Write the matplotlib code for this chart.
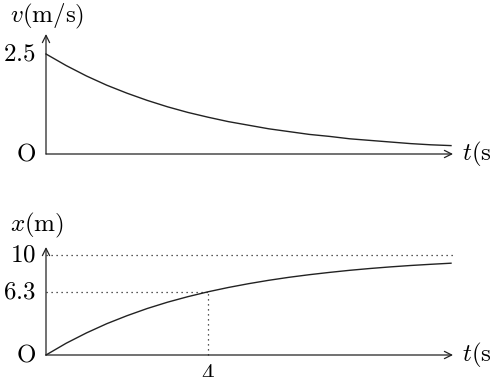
import matplotlib
matplotlib.use("Agg")
import matplotlib.pyplot as plt

plt.rcParams['mathtext.fontset'] = 'cm'
plt.rcParams['font.family'] = 'serif'
plt.rcParams['font.serif'] = ['cmr10', 'DejaVu Serif']

# values
t = [0, 0.5, 1, 1.5, 2, 2.5, 3, 3.5, 4, 4.5, 5, 5.5, 6, 6.5, 7, 7.5, 8, 8.5, 9, 9.5, 10]
v = [2.5, 2.21, 1.95, 1.72, 1.52, 1.34, 1.18, 1.04, 0.92, 0.81, 0.72, 0.63, 0.56,
     0.49, 0.44, 0.38, 0.34, 0.30, 0.26, 0.23, 0.21]
x = [0, 1.18, 2.21, 3.13, 3.93, 4.65, 5.28, 5.83, 6.32, 6.75, 7.13, 7.47, 7.77,
     8.03, 8.26, 8.47, 8.65, 8.81, 8.95, 9.07, 9.18]
v_ticks = [2.5]
x_ticks = [10, 6.3]
t_mark = 4
x_at_mark = 6.3
x_limit = 10

W, H = 491, 377
fig = plt.figure(figsize=(W / 100, H / 100), dpi=100)

xlim = (-46 / 40.5, (W - 46) / 40.5)
fs = 18
ink = '#222222'
arrow = dict(arrowstyle='->', lw=0.9, color=ink, mutation_scale=13,
             shrinkA=0, shrinkB=0)
dots = dict(color=ink, lw=0.9, ls=(0, (1, 3)))

# top panel: v(t)
ax1 = fig.add_axes([0, (H - 170) / H, 1, 150 / H])
ax1.set_xlim(*xlim)
ax1.set_ylim((154 - 170) / 40, (154 - 20) / 40)
ax1.axis('off')
ax1.plot(t, v, color=ink, lw=1.0)
ax1.annotate('', xy=(10.05, 0), xytext=(0, 0), arrowprops=arrow)
ax1.annotate('', xy=(0, 3.0), xytext=(0, 0), arrowprops=arrow)
for val in v_ticks:
    ax1.text(-0.25, val, r'$%g$' % val, ha='right', va='center', fontsize=fs)
ax1.text(-0.25, 0, r'$\mathrm{O}$', ha='right', va='center', fontsize=fs)
ax1.text(-0.9, 3.45, r'$v(\mathrm{m/s})$', ha='left', va='center', fontsize=fs)
ax1.text(10.28, 0, r'$t(\mathrm{s})$', ha='left', va='center', fontsize=fs)

# bottom panel: x(t)
ax2 = fig.add_axes([0, 0, 1, 162 / H])
ax2.set_xlim(*xlim)
ax2.set_ylim((355 - 377) / 10, (355 - 215) / 10)
ax2.axis('off')
ax2.plot([0, 10.05], [x_limit, x_limit], **dots)
ax2.plot([0, t_mark], [x_at_mark, x_at_mark], **dots)
ax2.plot([t_mark, t_mark], [0, x_at_mark], **dots)
ax2.plot(t, x, color=ink, lw=1.0)
ax2.annotate('', xy=(10.05, 0), xytext=(0, 0), arrowprops=arrow)
ax2.annotate('', xy=(0, 10.8), xytext=(0, 0), arrowprops=arrow)
for val in x_ticks:
    ax2.text(-0.25, val, r'$%g$' % val, ha='right', va='center', fontsize=fs)
ax2.text(-0.25, 0, r'$\mathrm{O}$', ha='right', va='center', fontsize=fs)
ax2.text(t_mark, -0.9, r'$%g$' % t_mark, ha='center', va='top', fontsize=fs)
ax2.text(-0.9, 13.0, r'$x(\mathrm{m})$', ha='left', va='center', fontsize=fs)
ax2.text(10.28, 0, r'$t(\mathrm{s})$', ha='left', va='center', fontsize=fs)

fig.savefig('out.png', dpi=100)
